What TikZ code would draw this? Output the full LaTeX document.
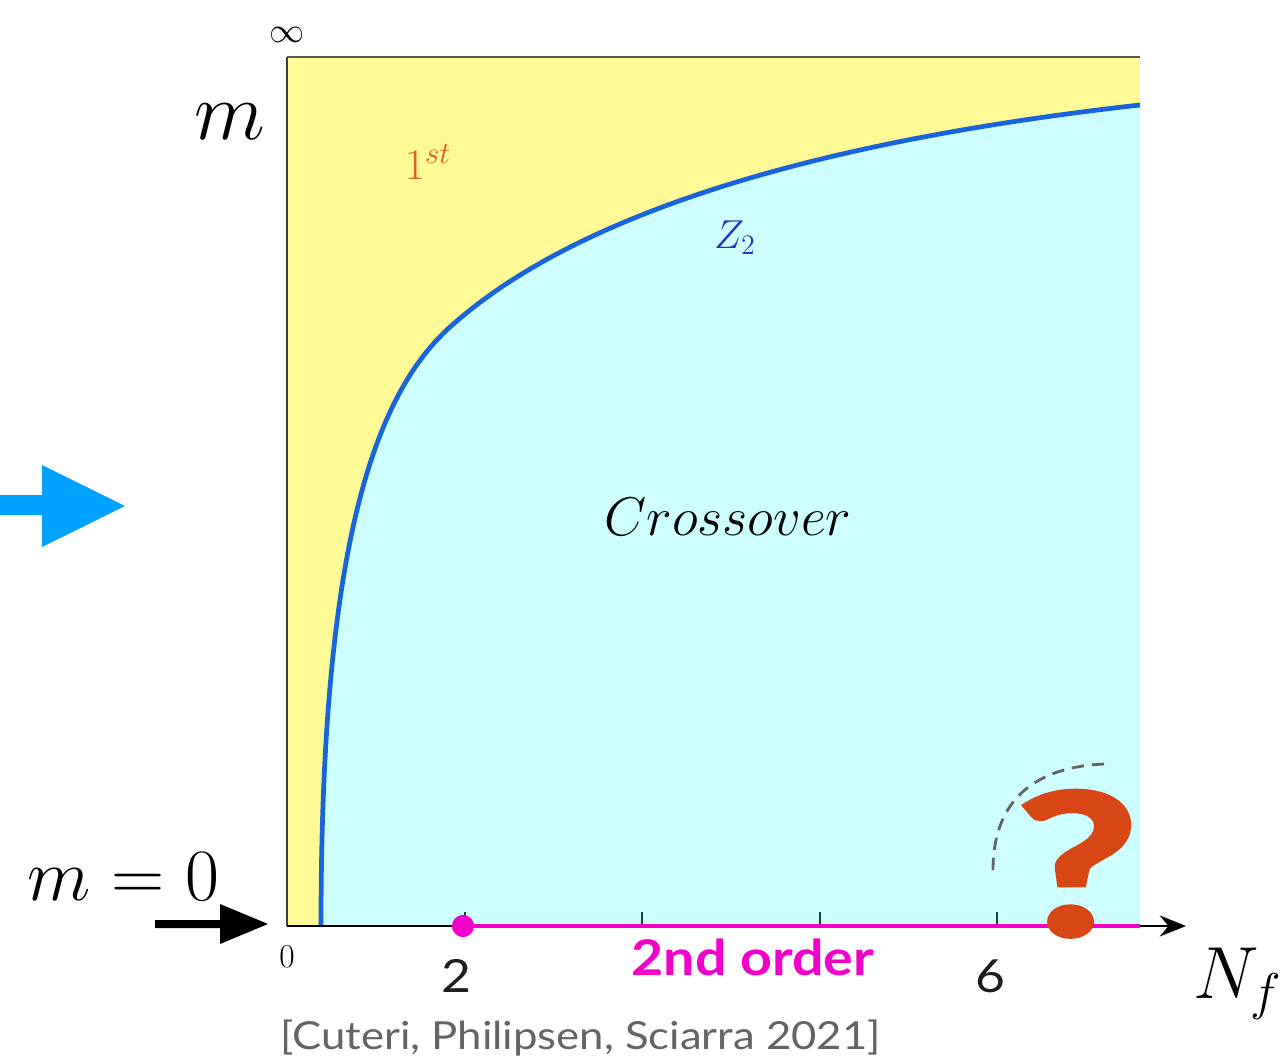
\documentclass[tikz,border=0pt]{standalone}
\usepackage{fix-cm}
\usepackage{fontspec}
\newfontfamily\lato{Lato}[FakeStretch=1.13]
\newfontfamily\qfont{Lato}[BoldFeatures={FakeBold=2.5}]
\usetikzlibrary{arrows.meta}
\definecolor{fillyel}{RGB}{255,250,150}
\definecolor{fillcyan}{RGB}{206,255,255}
\definecolor{curveblue}{RGB}{22,100,222}
\definecolor{magentaC}{RGB}{240,0,200}
\definecolor{orangeT}{RGB}{225,95,20}
\definecolor{zblue}{RGB}{40,50,200}
\definecolor{arrowblue}{RGB}{0,162,255}
\definecolor{qred}{RGB}{216,70,22}
\definecolor{citegray}{RGB}{100,100,100}
\definecolor{tickgray}{RGB}{40,60,60}
\newcommand{\fsz}[1]{\fontsize{#1}{#1}\selectfont}
\tikzset{
  lbl/.style={inner sep=0pt, outer sep=0pt},
  tickmark/.style={draw=tickgray, line width=1.2pt},
}
\begin{document}
\begin{tikzpicture}[x=0.02cm,y=-0.02cm]
\useasboundingbox (0,0) rectangle (1281,1058);
\coordinate (C0) at (321,926);
\coordinate (C1) at (450,327);
\coordinate (C2) at (1140,105);
% regions
\fill[fillyel] (287,57) rectangle (1140,926);
\fill[fillcyan] (C0) .. controls (321,560) and (370,399) .. (C1) .. controls (600,192) and (890,133) .. (C2) -- (1140,926) -- cycle;
\draw[curveblue, line width=2.7pt] (C0) .. controls (321,560) and (370,399) .. (C1) .. controls (600,192) and (890,133) .. (C2);
% frame
\coordinate (O) at (287,926);
\coordinate (TL) at (287,57);
\coordinate (TR) at (1140,57);
\coordinate (AX) at (1186,926);
\draw[draw={rgb,255:red,60;green,60;blue,60}, line width=1.6pt] (O) -- (TL);
\draw[draw={rgb,255:red,90;green,90;blue,90}, line width=1.7pt] (TL) -- (TR);
\draw[black, line width=1.1pt, -{Stealth[length=15pt, width=12pt, inset=5pt]}] (O) -- (AX);
% ticks
\foreach \tx in {465,642,820,997} \draw[tickmark] (\tx,912) -- (\tx,926);
% second-order line
\coordinate (P2) at (463,926);
\coordinate (PE) at (1140,926);
\draw[magentaC, line width=2.6pt] (P2) -- (PE);
\fill[magentaC] (P2) circle[radius=6.3pt];
% dashed arc
\coordinate (D1) at (993,870);
\coordinate (D2) at (1104,764);
\draw[draw=citegray, line width=1.6pt, dash pattern=on 7pt off 4.5pt] (D1) .. controls (993,800) and (1035,767) .. (D2);
% labels
\node[lbl] (inf) at (287,35) {\fsz{20}$\infty$};
\node[lbl] (mlab) at (230,122) {\fsz{47}$m$};
\node[lbl, text=orangeT] (first) at (428,162) {\fsz{25}$1^{st}$};
\node[lbl, text=zblue] (z2) at (735,238) {\fsz{23}$Z_2$};
\node[lbl] (cross) at (728,517) {\fsz{31}$Crossover$};
\node[lbl, anchor=base west] (m0) at (28,900) {\fsz{42}$m=0$};
\node[lbl] (zero) at (287,957) {\fsz{19}$0$};
\node[lbl, text={rgb,255:red,30;green,30;blue,30}] (two) at (456,976) {\fsz{26}\lato 2};
\node[lbl, text={rgb,255:red,30;green,30;blue,30}] (six) at (990,976) {\fsz{26}\lato 6};
\node[lbl, text=magentaC, anchor=base] (order) at (753,975) {\fsz{28}\lato\bfseries 2nd order};
\node[lbl, text=citegray, anchor=base west] (cite) at (280,1049) {\fsz{22}\lato [Cuteri, Philipsen, Sciarra 2021]};
\node[lbl, anchor=base west] (nf) at (1193,998) {\fsz{42}$N_f$};
% arrows
\fill[black] (155,920) -- (220,920) -- (220,904) -- (268,924) -- (220,944) -- (220,928) -- (155,928) -- cycle;
\fill[arrowblue] (0,495) -- (42,495) -- (42,465) -- (125,506) -- (42,547) -- (42,515) -- (0,515) -- cycle;
% question mark
\node[lbl, text=qred, anchor=base] (qm) at (1077,935) {\scalebox{1.35}[1]{\fsz{112}\qfont\bfseries ?}};
\end{tikzpicture}
\end{document}
